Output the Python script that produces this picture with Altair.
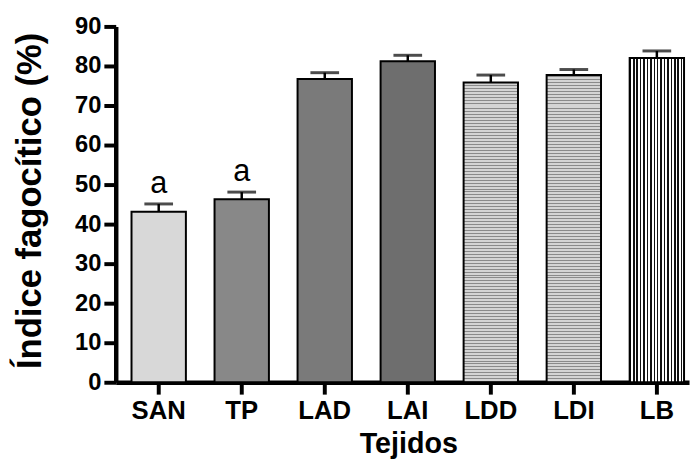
import altair as alt
import pandas as pd

tejidos = ["SAN", "TP", "LAD", "LAI", "LDD", "LDI", "LB"]
medias = [43.1, 46.3, 76.7, 81.2, 75.8, 77.7, 82.0]
errores = [2.0, 1.8, 1.6, 1.5, 1.9, 1.4, 1.8]
letras = ["a", "a", "", "", "", "", ""]
y_ticks = [0, 10, 20, 30, 40, 50, 60, 70, 80, 90]

df = pd.DataFrame({"tejido": tejidos, "media": medias, "ee": errores, "letra": letras})

FONT = "Liberation Sans"
W, H = 580, 360
YMAX = 90
PX_PER_UNIT = H / YMAX
BANDWIDTH = W / (7 - 0.345 + 2 * 0.125) * (1 - 0.345)


def stripes(c1, c2, length_px, period_px, frac1, vertical):
    """Hard-stop linear gradient with a fixed pixel period, starting at the bar's base/left."""
    stops = []
    pos = 0.0
    while pos < length_px:
        a = pos / length_px
        m = min((pos + period_px * frac1) / length_px, 1.0)
        b = min((pos + period_px) / length_px, 1.0)
        stops += [
            {"offset": a, "color": c1},
            {"offset": m, "color": c1},
            {"offset": m, "color": c2},
            {"offset": b, "color": c2},
        ]
        pos += period_px
    if vertical:
        return {"gradient": "linear", "x1": 0, "y1": 0, "x2": 1, "y2": 0, "stops": stops}
    return {"gradient": "linear", "x1": 0, "y1": 1, "x2": 0, "y2": 0, "stops": stops}


val = dict(zip(tejidos, medias))
fills = {
    "SAN": "#d8d8d8",
    "TP": "#888888",
    "LAD": "#7a7a7a",
    "LAI": "#6e6e6e",
    "LDD": stripes("#8a8a8a", "#d4d4d4", val["LDD"] * PX_PER_UNIT, 3, 1 / 3, False),
    "LDI": stripes("#8a8a8a", "#d4d4d4", val["LDI"] * PX_PER_UNIT, 3, 1 / 3, False),
    "LB": stripes("#111111", "#ffffff", BANDWIDTH, 3.45, 0.45, True),
}

xscale = alt.Scale(paddingInner=0.345, paddingOuter=0.125, align=0.76)
yscale = alt.Scale(domain=[0, YMAX], nice=False, zero=True)

xaxis = alt.Axis(labelAngle=0, titleX=296, titleY=71, titleBaseline="alphabetic")
yaxis = alt.Axis(values=y_ticks, labelOverlap=False, titleX=-87, titleY=176,
                 titleAlign="center", titleBaseline="middle", titleAngle=-90)
XTITLE = "Tejidos"
YTITLE = "Índice fagocítico (%)"

xenc = alt.X("tejido:N", sort=tejidos, title=XTITLE, scale=xscale, axis=xaxis)


def yenc(field):
    return alt.Y(field, scale=yscale, title=YTITLE, axis=yaxis)


base = alt.Chart(df)

bar_layers = []
for t in tejidos:
    bar_layers.append(
        base.transform_filter(alt.datum.tejido == t)
        .mark_bar(fill=fills[t], stroke="black", strokeWidth=2)
        .encode(x=xenc, y=yenc("media:Q"))
    )

err = base.transform_calculate(sup="datum.media + datum.ee")

stem = err.mark_rule(color="black", strokeWidth=2.5).encode(
    x=xenc,
    y=yenc("media:Q"),
    y2="sup:Q",
)
cap = err.mark_tick(color="black", thickness=3, size=29, orient="horizontal").encode(
    x=xenc,
    y=yenc("sup:Q"),
)
txt = err.mark_text(
    font=FONT, fontSize=31, color="black", baseline="bottom", dy=-4
).encode(
    x=xenc,
    y=yenc("sup:Q"),
    text="letra:N",
)

chart = (
    alt.layer(*bar_layers, stem, cap, txt)
    .properties(
        width=W,
        height=H,
        background="white",
        autosize=alt.AutoSizeParams(type="none"),
        padding={"left": 109, "top": 16, "right": 2, "bottom": 76},
    )
    .configure_view(stroke=None)
    .configure_axis(
        grid=False,
        labelFont=FONT,
        labelFontWeight="bold",
        labelColor="black",
        tickSize=12,
        tickWidth=4,
        tickColor="black",
        domainColor="black",
        domainWidth=4.5,
        titleFont=FONT,
        titleFontWeight="bold",
        titleColor="black",
    )
    .configure_axisX(labelFontSize=26, labelPadding=4, titleFontSize=29)
    .configure_axisY(labelFontSize=24, labelPadding=3, titleFontSize=35, labelOverlap=False)
)

chart.save("out.html", embed_options={"renderer": "svg", "actions": False})
